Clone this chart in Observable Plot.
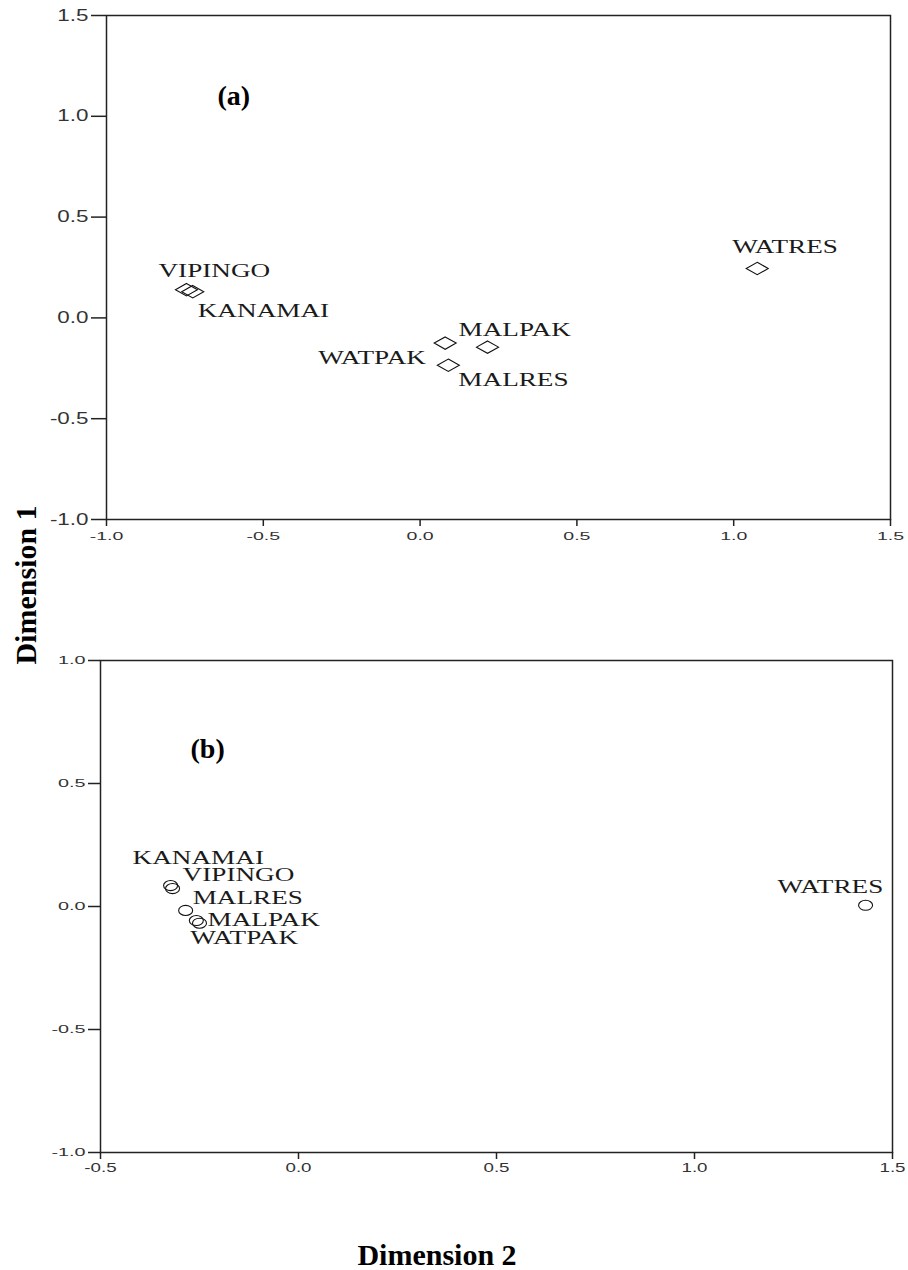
<!DOCTYPE html>
<html><head><meta charset="utf-8">
<script src="https://cdn.jsdelivr.net/npm/d3@7"></script>
<script src="https://cdn.jsdelivr.net/npm/@observablehq/plot@0.6"></script>
<style>
body{margin:0;background:#fff;}
#fig{position:relative;width:908px;height:1270px;overflow:hidden;background:#fff;}
#fig svg.plt{position:absolute;left:0;}
</style></head><body>
<div id="fig"></div>
<script>
// ---- data ----
const namesA = ["VIPINGO","KANAMAI","WATPAK","MALPAK","MALRES","WATRES"];
const dim2A  = [-0.745, -0.725, 0.08, 0.215, 0.09, 1.075];
const dim1A  = [0.14, 0.13, -0.125, -0.145, -0.235, 0.245];

const namesB = ["KANAMAI","VIPINGO","MALRES","WATPAK","MALPAK","WATRES"];
const dim2B  = [-0.323, -0.318, -0.285, -0.258, -0.25, 1.432];
const dim1B  = [0.085, 0.073, -0.016, -0.057, -0.068, 0.005];

const xTicksA = [-1, -0.5, 0, 0.5, 1, 1.5];
const yTicksA = [-1, -0.5, 0, 0.5, 1, 1.5];
const xTicksB = [-0.5, 0, 0.5, 1, 1.5];
const yTicksB = [-1, -0.5, 0, 0.5, 1];
const panelTitles = ["(a)", "(b)"];
const axisTitles = ["Dimension 1", "Dimension 2"];

// ---- layout / style (label placement offsets in px) ----
const offA = {VIPINGO:[-28,-19], KANAMAI:[5,19], WATPAK:[-127,15], MALPAK:[-29,-17], MALRES:[10,15], WATRES:[-25,-21]};
const offB = {KANAMAI:[-38,-28], VIPINGO:[10,-13], MALRES:[7,-12], WATPAK:[-6,18], MALPAK:[8,-3], WATRES:[-88,-18]};

const wideDiamond = {draw(ctx, size){const s=Math.sqrt(size/Math.PI);const hw=s*1.1, hh=s*0.62;
  ctx.moveTo(0,-hh);ctx.lineTo(hw,0);ctx.lineTo(0,hh);ctx.lineTo(-hw,0);ctx.closePath();}};
const ellipse = {draw(ctx, size){const s=Math.sqrt(size/Math.PI);const hw=s, hh=s*0.72, k=0.5523;
  ctx.moveTo(hw,0);
  ctx.bezierCurveTo(hw,k*hh,k*hw,hh,0,hh);
  ctx.bezierCurveTo(-k*hw,hh,-hw,k*hh,-hw,0);
  ctx.bezierCurveTo(-hw,-k*hh,-k*hw,-hh,0,-hh);
  ctx.bezierCurveTo(k*hw,-hh,hw,-k*hh,hw,0);
  ctx.closePath();}};

const fmt = d => d.toFixed(1);
const serif = "'Liberation Serif','Times New Roman',serif";
const sans = "'Liberation Sans',Arial,sans-serif";

function makePanel(o){
  const pts = o.names.map((n,i)=>({name:n, x:o.xs[i], y:o.ys[i]}));
  const labels = pts.map(p => Plot.text([p], {x:"x", y:"y", text:"name", textAnchor:"start",
      dx:o.off[p.name][0], dy:o.off[p.name][1], fontFamily:serif, fontSize:18.5, fill:"#1a1a1a"}));
  return Plot.plot({
    width:908, height:o.height,
    marginLeft:o.ml, marginRight:o.mr, marginTop:o.mt, marginBottom:o.mb,
    x:{domain:o.xd}, y:{domain:o.yd},
    style:{fontFamily:sans, background:"transparent", color:"#000"},
    marks:[
      Plot.axisX({ticks:o.xt, tickFormat:fmt, tickSize:o.xts, tickPadding:o.xtp, fontSize:o.xfs, label:null, strokeWidth:1.5, stroke:"#222", fill:"#333"}),
      Plot.axisY({ticks:o.yt, tickFormat:fmt, tickSize:o.yts, tickPadding:o.ytp, fontSize:o.yfs, label:null, strokeWidth:1.5, stroke:"#222", fill:"#333"}),
      Plot.frame({stroke:"#222", strokeWidth:1.5}),
      Plot.dot(pts, {x:"x", y:"y", r:o.r, symbol:o.symbol, stroke:"#111", strokeWidth:1.1, fill:"none"}),
      ...labels,
      Plot.text([o.title], {frameAnchor:"top-left", text:d=>d, dx:o.tdx, dy:o.tdy, textAnchor:"start",
        fontFamily:serif, fontWeight:"bold", fontSize:28, fill:"#000"})
    ]
  });
}

const fig = document.getElementById("fig");

const svgA = makePanel({names:namesA, xs:dim2A, ys:dim1A, off:offA, height:560,
  ml:106, mr:18, mt:15, mb:41, xd:[-1,1.5], yd:[-1,1.5], xt:xTicksA, yt:yTicksA,
  xts:7, xtp:5, xfs:11.5, yts:15, ytp:3, yfs:16, r:10, symbol:wideDiamond,
  title:panelTitles[0], tdx:111, tdy:70});
svgA.classList.add("plt"); svgA.style.top="0px";
fig.appendChild(svgA);

const svgB = makePanel({names:namesB, xs:dim2B, ys:dim1B, off:offB, height:600,
  ml:100, mr:16, mt:60, mb:48, xd:[-0.5,1.5], yd:[-1,1], xt:xTicksB, yt:yTicksB,
  xts:7, xtp:4, xfs:12.5, yts:12, ytp:3, yfs:10.7, r:7, symbol:ellipse,
  title:panelTitles[1], tdx:90, tdy:78});
svgB.classList.add("plt"); svgB.style.top="600px";
fig.appendChild(svgB);

// horizontally stretch text glyphs about their anchor point (reference text is widened)
function stretch(svg, sel, f, filter){
  d3.select(svg).selectAll(sel).each(function(){
    if (filter && !filter(this.textContent)) return;
    const ax = parseFloat(this.getAttribute("x")) || 0;
    const t = this.getAttribute("transform") || "";
    this.setAttribute("transform", `${t} translate(${ax},0) scale(${f},1) translate(${-ax},0)`);
  });
}
const isName = s => namesA.includes(s) || namesB.includes(s);
stretch(svgA, 'g[aria-label="text"] text', 1.47, isName);
stretch(svgB, 'g[aria-label="text"] text', 1.47, isName);
stretch(svgA, 'g[aria-label="y-axis tick label"] text', 1.4);
stretch(svgA, 'g[aria-label="x-axis tick label"] text', 1.7);
stretch(svgB, 'g[aria-label="y-axis tick label"] text', 1.85);
stretch(svgB, 'g[aria-label="x-axis tick label"] text', 1.5);

// axis titles overlay
const ov = d3.select(fig).append("svg").attr("width",908).attr("height",1270)
  .style("position","absolute").style("left","0px").style("top","0px").style("pointer-events","none");
ov.append("text").attr("transform","translate(36,585) rotate(-90)").attr("text-anchor","middle")
  .attr("font-family",serif).attr("font-weight","bold").attr("font-size",30).attr("fill","#000").text(axisTitles[0]);
ov.append("text").attr("x",437).attr("y",1265).attr("text-anchor","middle")
  .attr("font-family",serif).attr("font-weight","bold").attr("font-size",30).attr("fill","#000").text(axisTitles[1]);
</script>
</body></html>
